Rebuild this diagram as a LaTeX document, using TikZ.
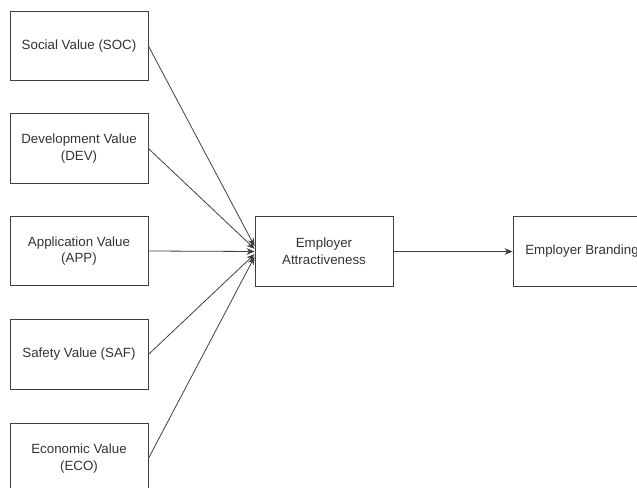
\documentclass[tikz,border=0pt]{standalone}
\usepackage{fontspec}
\setmainfont{Liberation Sans}
\usetikzlibrary{arrows.meta}
\begin{document}
\begin{tikzpicture}[x=0.75pt, y=-0.75pt,
    valuebox/.style={draw=black!75, line width=0.6pt, fill=white,
      minimum width=103.5pt, minimum height=52pt, align=center,
      font=\fontsize{10}{12.5}\selectfont, text=black!80},
    link/.style={draw=black!75, line width=0.6pt, -{Stealth[length=6pt, width=5pt]}}]
  \useasboundingbox (0,0) rectangle (637,488);
  \clip (0,0) rectangle (637,488);
  % value dimensions
  \node[valuebox] (soc) at (79,46) {Social Value (SOC)};
  \node[valuebox] (dev) at (79,148.5) {Development Value\\(DEV)};
  \node[valuebox] (app) at (79,251) {Application Value\\(APP)};
  \node[valuebox] (saf) at (79,354.5) {Safety Value (SAF)};
  \node[valuebox] (eco) at (79,458.5) {Economic Value\\(ECO)};
  % outcomes
  \node[valuebox] (attr) at (324,251.5) {Employer\\Attractiveness};
  \node[valuebox] (brand) at (582,251.5) {Employer Branding};
  % paths
  \draw[link] (soc.east) -- ([yshift=4pt]attr.west);
  \draw[link] (dev.east) -- ([yshift=2pt]attr.west);
  \draw[link] (app.east) -- (attr.west);
  \draw[link] (saf.east) -- ([yshift=-2pt]attr.west);
  \draw[link] (eco.east) -- ([yshift=-4pt]attr.west);
  \draw[link] (attr.east) -- (brand.west);
\end{tikzpicture}
\end{document}
